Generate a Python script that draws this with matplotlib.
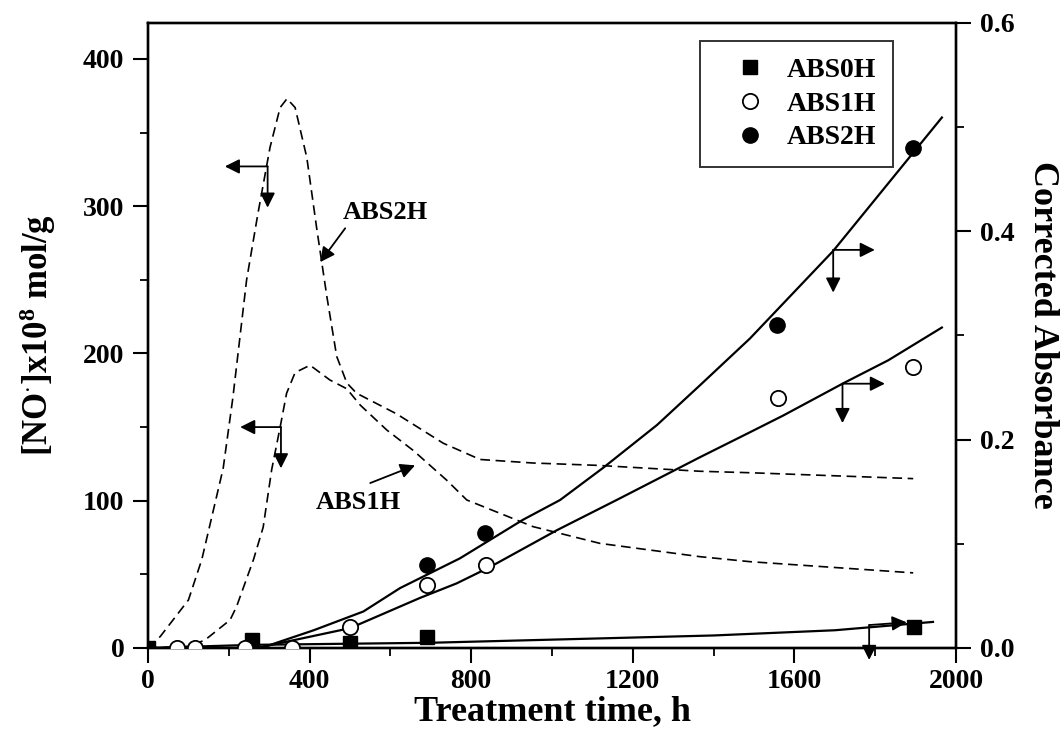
import matplotlib
matplotlib.use("Agg")
import matplotlib.pyplot as plt
from matplotlib.ticker import MultipleLocator

plt.rcParams['font.family'] = ['Liberation Serif', 'DejaVu Serif']
plt.rcParams['font.weight'] = 'bold'
plt.rcParams['mathtext.fontset'] = 'custom'
plt.rcParams['mathtext.rm'] = 'Liberation Serif:bold'
plt.rcParams['mathtext.it'] = 'Liberation Serif:bold'
plt.rcParams['mathtext.bf'] = 'Liberation Serif:bold'
plt.rcParams['mathtext.default'] = 'rm'
plt.rcParams['lines.scale_dashes'] = False

# ---- measured absorbance (right axis) ----
abs0_t = [0, 257, 500, 690, 1896]
abs0_a = [0.0, 0.0077, 0.005, 0.0102, 0.0204]
abs1_t = [71, 116, 240, 356, 500, 690, 837, 1560, 1894]
abs1_a = [0.0, 0.0, 0.0, 0.0, 0.0204, 0.060, 0.080, 0.240, 0.270]
abs2_t = [691, 834, 1558, 1894]
abs2_a = [0.080, 0.110, 0.310, 0.480]

# ---- absorbance trend lines (right axis) ----
fit0_t = [0, 260, 700, 1000, 1400, 1700, 1943]
fit0_a = [0.0, 0.003, 0.005, 0.008, 0.012, 0.017, 0.025]
fit1_t = [270, 500, 673, 764, 846, 1012, 1160, 1366, 1490, 1572, 1721, 1832, 1965]
fit1_a = [0.0, 0.019, 0.048, 0.062, 0.0776, 0.113, 0.142, 0.183, 0.207, 0.223, 0.254, 0.276, 0.3075]
fit2_t = [280, 410, 533, 624, 772, 928, 1020, 1127, 1260, 1366, 1490, 1696, 1965]
fit2_a = [0.0, 0.017, 0.035, 0.0575, 0.086, 0.123, 0.142, 0.173, 0.214, 0.252, 0.297, 0.381, 0.509]

# ---- [NO] concentration curves (left axis) ----
no2_t = [0, 30, 100, 133, 186, 210, 244, 272, 302, 327, 344, 364, 393, 418, 443, 467,
         492, 516, 615, 731, 822, 953, 1113, 1366, 1490, 1894]
no2_c = [0, 7.7, 32.6, 60, 122, 170, 250, 295, 340, 367, 373, 367, 333, 284, 238, 198,
         180, 173, 159, 139, 128, 125.6, 124, 120, 119, 115]
no1_t = [0, 100, 141, 203, 219, 261, 285, 306, 327, 343, 364, 401, 450, 492, 525, 591,
         657, 739, 789, 953, 1119, 1366, 1490, 1894]
no1_c = [0, 1, 5.4, 19, 28, 60, 82, 121, 150, 173, 187, 192, 182, 176, 165, 148,
         134, 114, 100.5, 82.4, 71, 62, 58.6, 51]

fig = plt.figure(figsize=(10.62, 7.37), dpi=100)
ax = fig.add_axes([0.1394, 0.1208, 0.7608, 0.8484])
ax2 = ax.twinx()

dash = (0, (7, 4))
ax.plot(no2_t, no2_c, color='k', lw=1.2, linestyle=dash)
ax.plot(no1_t, no1_c, color='k', lw=1.2, linestyle=dash)

ax2.plot(fit0_t, fit0_a, color='k', lw=1.6)
ax2.plot(fit1_t, fit1_a, color='k', lw=1.6)
ax2.plot(fit2_t, fit2_a, color='k', lw=1.6)

ax2.plot(abs0_t, abs0_a, 's', color='k', ms=10, label='ABS0H', zorder=5)
ax2.plot(abs1_t, abs1_a, 'o', mfc='white', mec='k', mew=1.3, ms=11, label='ABS1H', zorder=5)
ax2.plot(abs2_t, abs2_a, 'o', color='k', ms=11, label='ABS2H', zorder=5)

ax.set_xlim(0, 2000)
ax.set_ylim(0, 424.6)
ax2.set_ylim(0, 0.6)

ax.xaxis.set_major_locator(MultipleLocator(400))
ax.xaxis.set_minor_locator(MultipleLocator(200))
ax.yaxis.set_major_locator(MultipleLocator(100))
ax.yaxis.set_minor_locator(MultipleLocator(50))
ax2.yaxis.set_major_locator(MultipleLocator(0.2))
ax2.yaxis.set_minor_locator(MultipleLocator(0.1))
ax2.yaxis.set_major_formatter(plt.FuncFormatter(lambda v, p: f"{v:.1f}"))

for a in (ax, ax2):
    a.tick_params(which='major', direction='out', length=11, width=1.5, labelsize=20, pad=6)
    a.tick_params(which='minor', direction='out', length=5.5, width=1.3)
    for s in a.spines.values():
        s.set_linewidth(1.7)
ax.tick_params(axis='x', pad=4)

ax.set_xlabel('Treatment time, h', fontsize=26, fontweight='bold', labelpad=1)
ax.set_ylabel(r'[NO$^{\cdot}$]x10$^{8}$ mol/g', fontsize=25, fontweight='bold', labelpad=18)
ax2.set_ylabel('Corrected Absorbance', fontsize=26, fontweight='bold', rotation=270,
               labelpad=32)

leg = ax2.legend(loc='upper right', bbox_to_anchor=(0.8411, 0.9448),
                 bbox_transform=fig.transFigure, fontsize=20, frameon=True,
                 fancybox=False, edgecolor='k', borderpad=0.6, labelspacing=0.3,
                 handletextpad=0.15, handlelength=2.4, borderaxespad=0)
leg.get_frame().set_linewidth(1.4)

arrow = dict(arrowstyle='-|>', mutation_scale=22, lw=1.3, color='k',
             shrinkA=0, shrinkB=0)

def bracket(axis, x, y, x_tip, y_tip):
    axis.annotate('', xy=(x_tip, y), xytext=(x, y), arrowprops=arrow,
                  annotation_clip=False)
    axis.annotate('', xy=(x, y_tip), xytext=(x, y), arrowprops=arrow,
                  annotation_clip=False)

# left-axis markers on the dashed curves
bracket(ax, 296, 327, 190, 299)
bracket(ax, 329, 150, 228, 122)
# right-axis markers on the solid curves
bracket(ax2, 1696, 0.382, 1799, 0.341)
bracket(ax2, 1719, 0.2536, 1824, 0.2158)
ax2.annotate('', xy=(1878, 0.0246), xytext=(1785, 0.022), arrowprops=arrow,
             annotation_clip=False)
ax2.annotate('', xy=(1785, -0.0115), xytext=(1785, 0.022), arrowprops=arrow,
             annotation_clip=False)

# series labels on the dashed curves
ax.annotate('', xy=(426, 262), xytext=(488, 285), arrowprops=arrow)
ax.text(587, 296, 'ABS2H', fontsize=19, fontweight='bold', ha='center', va='center')
ax.annotate('', xy=(661, 124), xytext=(550, 112), arrowprops=arrow)
ax.text(520, 99, 'ABS1H', fontsize=19, fontweight='bold', ha='center', va='center')

fig.savefig('out.png', dpi=100)
